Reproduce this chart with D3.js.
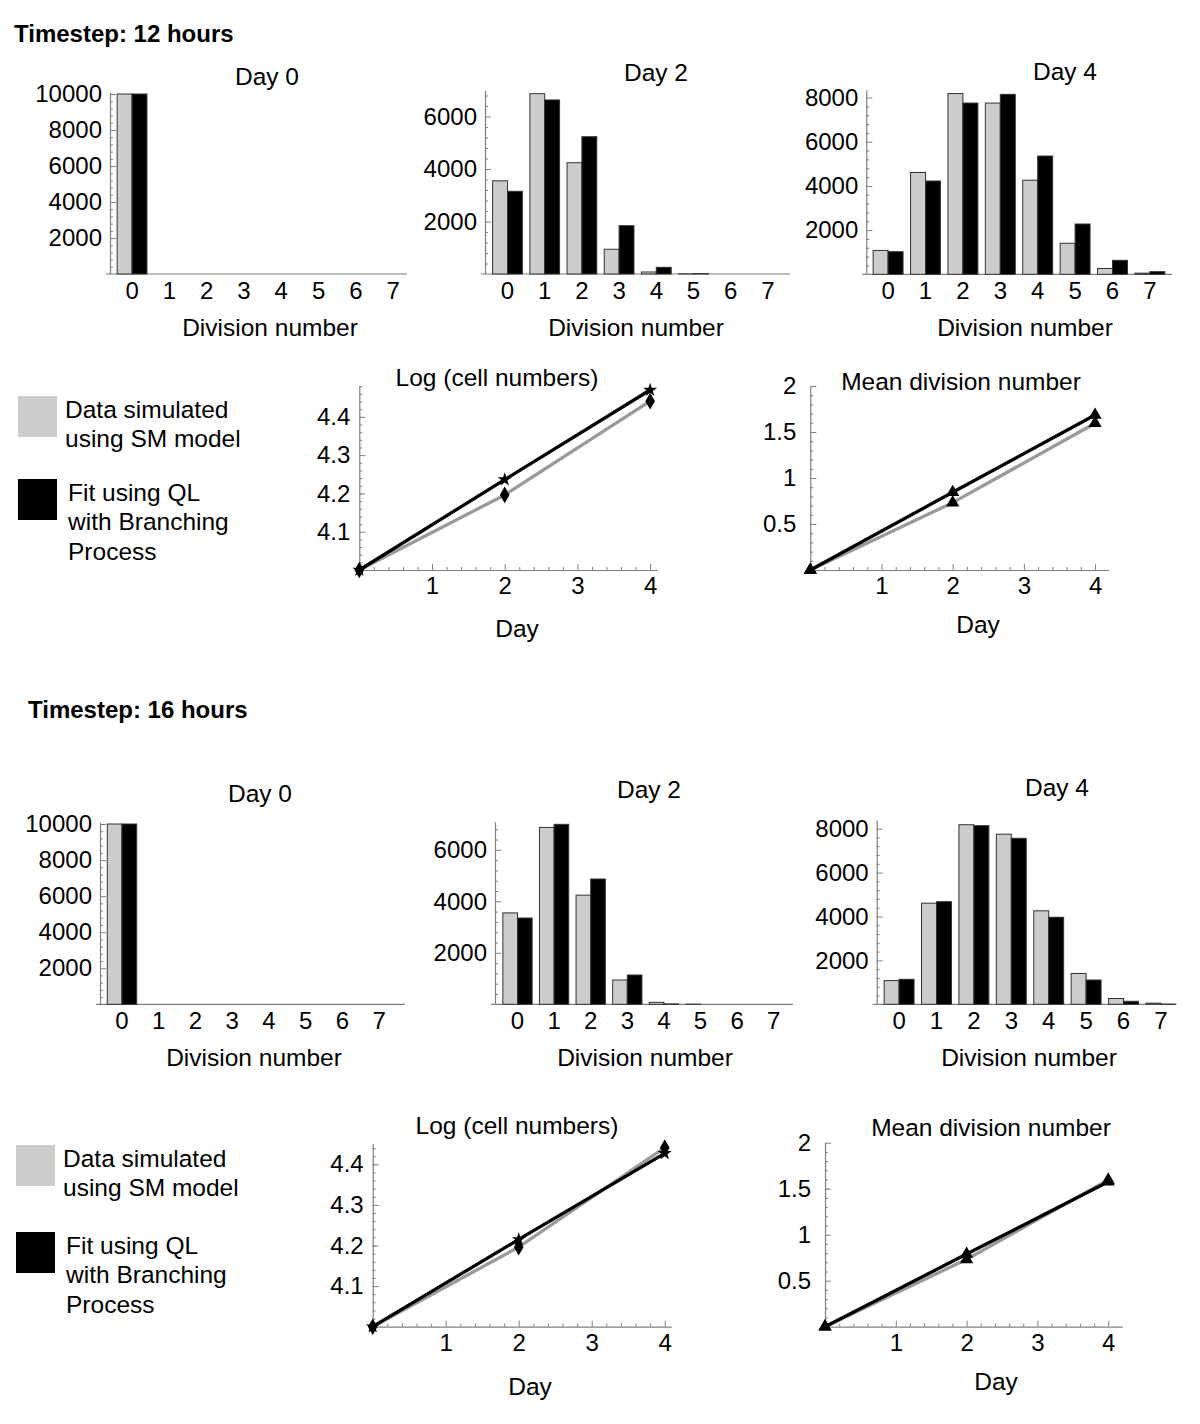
<!DOCTYPE html>
<html>
<head>
<meta charset="utf-8">
<script src="https://cdn.jsdelivr.net/npm/d3@7"></script>
<style>
  body { margin: 0; background: #fff; }
  text { font-family: "Liberation Sans", Arial, Helvetica, sans-serif; fill: #000; }
</style>
</head>
<body>
<script>
// ---- data ----
var divisions = [0, 1, 2, 3, 4, 5, 6, 7];

// simulated data (SM model), same in both timesteps
var simDay0 = [10000, 0, 0, 0, 0, 0, 0, 0];
var simDay2 = [3550, 6870, 4240, 942, 77, 6, 0, 0];
var simDay4 = [1080, 4608, 8180, 7750, 4258, 1405, 263, 52];

// fit, timestep 12 hours
var fit12Day0 = [10000, 0, 0, 0, 0, 0, 0, 0];
var fit12Day2 = [3150, 6630, 5230, 1840, 255, 15, 0, 0];
var fit12Day4 = [1023, 4222, 7751, 8145, 5353, 2276, 633, 118];

// fit, timestep 16 hours
var fit16Day0 = [10000, 0, 0, 0, 0, 0, 0, 0];
var fit16Day2 = [3351, 6990, 4866, 1138, 15, 0, 0, 0];
var fit16Day4 = [1139, 4675, 8137, 7562, 3964, 1107, 137, 10];

var days = [0, 2, 4];
var logSim = [4, 4.196, 4.441];
var logFit12 = [4, 4.236, 4.470];
var logFit16 = [4, 4.215, 4.427];
var meanSim = [0, 0.732, 1.595];
var meanFit12 = [0, 0.845, 1.685];
var meanFit16 = [0, 0.79, 1.576];

var headers = ["Timestep: 12 hours", "Timestep: 16 hours"];
var legendSim = ["Data simulated", "using SM model"];
var legendFit = ["Fit using QL", "with Branching", "Process"];

// ---- drawing ----
var w = 1200, h = 1424;
var svg = d3.select("body").append("svg")
    .attr("width", w)
    .attr("height", h);

var axisCol = "#808080";
var lightGrey = "#cccccc";
var labelSize = "24.5px", tickSize = "24px";

// y axis with inward ticks + minor ticks
function yAxis(g, y, x0, major, minor, fmt, pad) {
  var minorVals = minor.filter(function(v) { return major.indexOf(v) < 0; });
  g.append("g")
    .attr("transform", "translate(" + x0 + ",0)")
    .call(d3.axisLeft(y).tickValues(minorVals).tickSizeInner(-3).tickSizeOuter(0).tickFormat(""))
    .call(function(a) { a.selectAll("line").attr("stroke", axisCol); a.select(".domain").remove(); });
  g.append("g")
    .attr("transform", "translate(" + x0 + ",0)")
    .call(d3.axisLeft(y).tickValues(major).tickSizeInner(-6).tickSizeOuter(0).tickPadding(pad).tickFormat(fmt))
    .call(function(a) {
      a.select(".domain").attr("stroke", axisCol).attr("stroke-width", 1.2);
      a.selectAll("line").attr("stroke", axisCol);
      a.selectAll("text").style("font-size", tickSize);
    });
}

function barPanel(p, sim, fit) {
  var g = svg.append("g");
  var y = d3.scaleLinear().domain([0, p.yMax]).range([p.y0, p.yTop]);
  var x = d3.scaleBand().domain(divisions)
      .range([p.band0, p.band0 + 8 * p.step])
      .paddingInner(0.2).paddingOuter(0.1);
  var bw = x.bandwidth() / 2;

  yAxis(g, y, p.x0, p.ticks, d3.range(400, p.yMax, 400), d3.format("d"), 8);

  // x axis line
  g.append("line")
    .attr("x1", p.x0 - 4).attr("x2", p.x1)
    .attr("y1", p.y0).attr("y2", p.y0)
    .attr("stroke", axisCol).attr("stroke-width", 1.2);

  g.selectAll("rect.sim").data(sim).enter().append("rect")
    .attr("x", function(d, i) { return x(divisions[i]); })
    .attr("y", function(d) { return y(d); })
    .attr("width", bw)
    .attr("height", function(d) { return p.y0 - y(d); })
    .attr("fill", lightGrey).attr("stroke", "#333").attr("stroke-width", 1);

  g.selectAll("rect.fit").data(fit).enter().append("rect")
    .attr("x", function(d, i) { return x(divisions[i]) + bw; })
    .attr("y", function(d) { return y(d); })
    .attr("width", bw)
    .attr("height", function(d) { return p.y0 - y(d); })
    .attr("fill", "#000").attr("stroke", "#333").attr("stroke-width", 1);

  g.append("g")
    .attr("transform", "translate(0," + (p.y0 + 2) + ")")
    .call(d3.axisBottom(x).tickSize(0).tickPadding(6))
    .call(function(a) {
      a.select(".domain").remove();
      a.selectAll("text").style("font-size", tickSize);
    });

  g.append("text").attr("x", p.title[0]).attr("y", p.title[1])
    .attr("text-anchor", "middle").attr("dominant-baseline", "central")
    .style("font-size", labelSize).text(p.titleText);
  g.append("text").attr("x", p.label[0]).attr("y", p.label[1])
    .attr("text-anchor", "middle").attr("dominant-baseline", "central")
    .style("font-size", labelSize).text("Division number");
}

function linePanel(p, sim, fit, simSym, fitSym) {
  var g = svg.append("g");
  var x = d3.scaleLinear().domain([0, p.xMax]).range([p.x0, p.x1]);
  var y = d3.scaleLinear().domain([p.yMin, p.yMax]).range([p.y0, p.yTop]);

  yAxis(g, y, p.x0, p.yTicks, p.yMinor, p.yFmt, p.yPad);

  g.append("g")
    .attr("transform", "translate(0," + p.y0 + ")")
    .call(d3.axisBottom(x).tickValues(d3.range(0.2, p.xMax, 0.2).filter(function(v) { return Math.abs(v - Math.round(v)) > 0.01; }))
      .tickSizeInner(-3).tickSizeOuter(0).tickFormat(""))
    .call(function(a) { a.selectAll("line").attr("stroke", axisCol); a.select(".domain").remove(); });
  g.append("g")
    .attr("transform", "translate(0," + p.y0 + ")")
    .call(d3.axisBottom(x).tickValues([1, 2, 3, 4]).tickSizeInner(-6).tickSizeOuter(0).tickPadding(7).tickFormat(d3.format("d")))
    .call(function(a) {
      a.select(".domain").attr("stroke", axisCol).attr("stroke-width", 1.2);
      a.selectAll("line").attr("stroke", axisCol);
      a.selectAll("text").style("font-size", tickSize);
    });

  var line = d3.line()
    .x(function(d, i) { return x(days[i]); })
    .y(function(d) { return y(d); });

  g.append("path").datum(sim).attr("d", line)
    .attr("fill", "none").attr("stroke", "#9a9a9a").attr("stroke-width", 3.3);
  g.append("path").datum(fit).attr("d", line)
    .attr("fill", "none").attr("stroke", "#000").attr("stroke-width", 3.3);

  g.selectAll("path.simpt").data(sim).enter().append("path")
    .attr("transform", function(d, i) { return "translate(" + x(days[i]) + "," + y(d) + ")"; })
    .attr("d", d3.symbol().type(simSym).size(p.simSize))
    .attr("fill", "#000");
  g.selectAll("path.fitpt").data(fit).enter().append("path")
    .attr("transform", function(d, i) { return "translate(" + x(days[i]) + "," + y(d) + ")"; })
    .attr("d", d3.symbol().type(fitSym).size(p.fitSize))
    .attr("fill", "#000");

  g.append("text").attr("x", p.title[0]).attr("y", p.title[1])
    .attr("text-anchor", "middle").attr("dominant-baseline", "central")
    .style("font-size", labelSize).text(p.titleText);
  g.append("text").attr("x", p.label[0]).attr("y", p.label[1])
    .attr("text-anchor", "middle").attr("dominant-baseline", "central")
    .style("font-size", labelSize).text("Day");
}

function legend(lx, simY, fitY) {
  var g = svg.append("g");
  g.append("rect").attr("x", lx).attr("y", simY).attr("width", 39).attr("height", 41).attr("fill", lightGrey);
  g.append("rect").attr("x", lx).attr("y", fitY).attr("width", 39).attr("height", 41).attr("fill", "#000");
  legendSim.forEach(function(t, i) {
    g.append("text").attr("x", lx + 47).attr("y", simY + 13 + i * 29.5)
      .attr("dominant-baseline", "central").style("font-size", labelSize).text(t);
  });
  legendFit.forEach(function(t, i) {
    g.append("text").attr("x", lx + 50).attr("y", fitY + 13 + i * 29.5)
      .attr("dominant-baseline", "central").style("font-size", labelSize).text(t);
  });
}

function header(t, x, y) {
  svg.append("text").attr("x", x).attr("y", y)
    .attr("dominant-baseline", "central")
    .style("font-size", "24px").style("font-weight", "bold").text(t);
}

// ---- timestep 12 hours ----
header(headers[0], 14, 33);
barPanel({x0: 110, x1: 407, y0: 274, yTop: 92.2, yMax: 10100, band0: 113.4, step: 37.3,
          ticks: [2000, 4000, 6000, 8000, 10000], title: [267, 76], label: [270, 327], titleText: "Day 0"},
         simDay0, fit12Day0);
barPanel({x0: 485, x1: 790, y0: 274, yTop: 90.25, yMax: 7000, band0: 488.9, step: 37.2,
          ticks: [2000, 4000, 6000], title: [656, 72], label: [636, 327], titleText: "Day 2"},
         simDay2, fit12Day2);
barPanel({x0: 866.3, x1: 1172, y0: 274.3, yTop: 89.8, yMax: 8350, band0: 869.4, step: 37.4,
          ticks: [2000, 4000, 6000, 8000], title: [1065, 71], label: [1025, 327], titleText: "Day 4"},
         simDay4, fit12Day4);
legend(18, 396, 479);
linePanel({x0: 359.3, x1: 657.4, xMax: 4.1, y0: 570, yTop: 386.2, yMin: 4, yMax: 4.48,
           yTicks: [4.1, 4.2, 4.3, 4.4], yMinor: d3.range(4.02, 4.48, 0.02), yFmt: d3.format(".1f"), yPad: 9,
           simSize: 80, fitSize: 60,
           title: [497, 377], label: [517, 628], titleText: "Log (cell numbers)"},
          logSim, logFit12, d3.symbolDiamond, d3.symbolStar);
linePanel({x0: 810.3, x1: 1108.6, xMax: 4.19, y0: 570, yTop: 386, yMin: 0, yMax: 2,
           yTicks: [0.5, 1, 1.5, 2], yMinor: d3.range(0.1, 2, 0.1), yFmt: function(d) { return d3.format("")(d); }, yPad: 14,
           simSize: 75, fitSize: 75,
           title: [961, 381], label: [978, 624], titleText: "Mean division number"},
          meanSim, meanFit12, d3.symbolTriangle, d3.symbolTriangle);

// ---- timestep 16 hours ----
header(headers[1], 28, 709);
barPanel({x0: 100, x1: 405, y0: 1004.3, yTop: 822.2, yMax: 10100, band0: 103.6, step: 36.75,
          ticks: [2000, 4000, 6000, 8000, 10000], title: [260, 793], label: [254, 1057], titleText: "Day 0"},
         simDay0, fit16Day0);
barPanel({x0: 495, x1: 793, y0: 1004.3, yTop: 821.5, yMax: 7100, band0: 499.2, step: 36.6,
          ticks: [2000, 4000, 6000], title: [649, 789], label: [645, 1057], titleText: "Day 2"},
         simDay2, fit16Day2);
barPanel({x0: 876.7, x1: 1175, y0: 1004.3, yTop: 819.9, yMax: 8400, band0: 880.4, step: 37.4,
          ticks: [2000, 4000, 6000, 8000], title: [1057, 787], label: [1029, 1057], titleText: "Day 4"},
         simDay4, fit16Day4);
legend(16, 1145, 1232);
linePanel({x0: 372.7, x1: 671.3, xMax: 4.09, y0: 1326.7, yTop: 1143.2, yMin: 4, yMax: 4.452,
           yTicks: [4.1, 4.2, 4.3, 4.4], yMinor: d3.range(4.02, 4.45, 0.02), yFmt: d3.format(".1f"), yPad: 9,
           simSize: 80, fitSize: 60,
           title: [517, 1125], label: [530, 1386], titleText: "Log (cell numbers)"},
          logSim, logFit16, d3.symbolDiamond, d3.symbolStar);
linePanel({x0: 825, x1: 1122.4, xMax: 4.2, y0: 1326.7, yTop: 1142.7, yMin: 0, yMax: 2,
           yTicks: [0.5, 1, 1.5, 2], yMinor: d3.range(0.1, 2, 0.1), yFmt: function(d) { return d3.format("")(d); }, yPad: 14,
           simSize: 75, fitSize: 75,
           title: [991, 1127], label: [996, 1381], titleText: "Mean division number"},
          meanSim, meanFit16, d3.symbolTriangle, d3.symbolTriangle);
</script>
</body>
</html>
